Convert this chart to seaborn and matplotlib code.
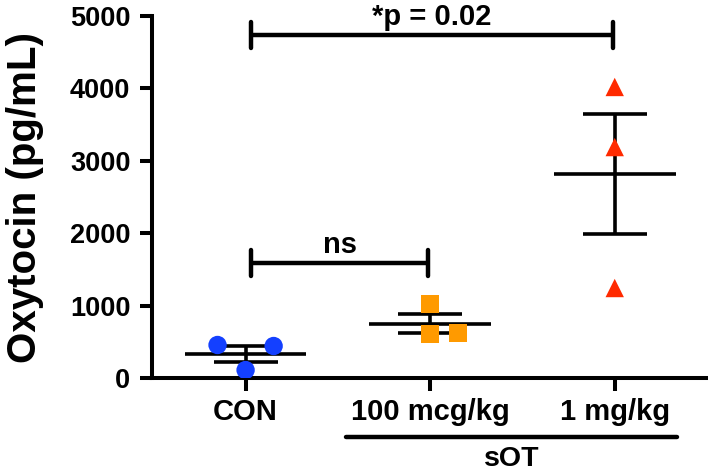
import numpy as np
import pandas as pd
import matplotlib
matplotlib.use("Agg")
import matplotlib.pyplot as plt
import matplotlib.transforms as mtransforms
import seaborn as sns

# ---------------- data ----------------
categories = ["CON", "100 mcg/kg", "1 mg/kg"]
con_values = [110, 442, 456]
mcg100_values = [610, 620, 1020]
mg1_values = [1243, 3190, 4020]
colors = ["#1440FF", "#FF9A00", "#FF2A00"]
markers = ["o", "s", "^"]
ytick_values = [0, 1000, 2000, 3000, 4000, 5000]
y_label = "Oxytocin (pg/mL)"
group_label = "sOT"
comparisons = [(0, 2, "*p = 0.02", 4740), (0, 1, "ns", 1590)]

# ---------------- style ----------------
sns.set_theme(style="ticks")
plt.rcParams["font.family"] = ["Liberation Sans", "DejaVu Sans"]
plt.rcParams["font.weight"] = "bold"
plt.rcParams["text.color"] = "black"
plt.rcParams["axes.labelcolor"] = "black"
plt.rcParams["xtick.color"] = "black"
plt.rcParams["ytick.color"] = "black"

LW = 2.6
fig = plt.figure(figsize=(7.08, 4.74), dpi=100)
ax = fig.add_axes([0.2147, 0.2025, 0.7839, 0.7637])


def dodge(values, step=0.152, thresh=390):
    """Simple column-scatter dodging: points too close in value are moved sideways."""
    vals = np.asarray(values, dtype=float)
    placed = []
    out = np.zeros(len(vals))
    for i in np.argsort(vals):
        v = vals[i]
        for k in [0, 1, -1, 2, -2, 3, -3]:
            if all(not (pk == k and abs(pv - v) < thresh) for pk, pv in placed):
                placed.append((k, v))
                out[i] = k * step
                break
    return out


groups = [con_values, mcg100_values, mg1_values]
rows = []
for gi, (cat, vals) in enumerate(zip(categories, groups)):
    offs = dodge(vals)
    for v, o in zip(vals, offs):
        rows.append({"group": cat, "value": v, "x": gi + o})
df = pd.DataFrame(rows)

# mean +/- SEM
for gi, vals in enumerate(groups):
    v = np.asarray(vals, dtype=float)
    m = v.mean()
    sem = v.std(ddof=1) / np.sqrt(len(v))
    ax.hlines(m, gi - 0.33, gi + 0.33, color="black", lw=LW, zorder=2)
    ax.vlines(gi, m - sem, m + sem, color="black", lw=LW, zorder=2)
    ax.hlines([m - sem, m + sem], gi - 0.173, gi + 0.173, color="black", lw=LW, zorder=2)

sns.scatterplot(data=df, x="x", y="value", hue="group", style="group",
                palette=colors, markers=dict(zip(categories, markers)),
                hue_order=categories, style_order=categories,
                s=175, linewidth=0, legend=False, ax=ax, zorder=3)

# axes
ax.set_xlim(-0.507, 2.5)
ax.set_ylim(0, 5000)
ax.set_xticks(range(len(categories)))
ax.set_xticklabels(categories, fontsize=21, fontweight="bold")
ax.set_yticks(ytick_values)
ax.set_yticklabels([str(t) for t in ytick_values], fontsize=19.5, fontweight="bold")
ax.set_xlabel("")
ax.set_ylabel(y_label, fontsize=29, fontweight="bold", color="black")
ax.yaxis.set_label_coords(-0.194, 0.5)
for s in ["top", "right"]:
    ax.spines[s].set_visible(False)
for s in ["left", "bottom"]:
    ax.spines[s].set_linewidth(LW + 0.3)
    ax.spines[s].set_color("black")
ax.tick_params(axis="y", length=8.5, width=LW + 0.3, pad=7, colors="black")
ax.tick_params(axis="x", length=9.5, width=LW + 0.3, pad=5, colors="black")

# significance brackets
cap = 180
for x1, x2, label, y in comparisons:
    xa, xb = x1 + 0.03, x2 - 0.01
    ax.plot([xa, xb], [y, y], color="black", lw=LW + 0.6, clip_on=False, solid_capstyle="butt")
    ax.plot([xa, xa], [y - cap, y + cap], color="black", lw=LW + 0.6, clip_on=False, solid_capstyle="round")
    ax.plot([xb, xb], [y - cap, y + cap], color="black", lw=LW + 0.6, clip_on=False, solid_capstyle="round")
    ax.text((xa + xb) / 2, y + 140, label, ha="center", va="baseline",
            fontsize=21, fontweight="bold", color="black", clip_on=False)

# group bracket below x axis (sOT)
trans = mtransforms.blended_transform_factory(ax.transData, ax.transAxes)
ax.plot([1 - 0.456, 2 + 0.34], [-0.163, -0.163], transform=trans, color="black",
        lw=LW + 0.6, clip_on=False, solid_capstyle="round")
ax.text((1 - 0.456 + 2 + 0.34) / 2, -0.187, group_label, transform=trans, ha="center",
        va="top", fontsize=20.5, fontweight="bold", color="black")

fig.savefig("out.png", dpi=100)
